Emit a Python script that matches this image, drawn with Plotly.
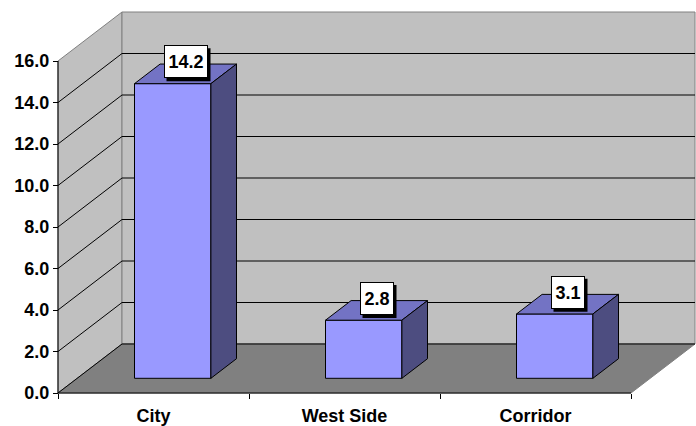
import plotly.graph_objects as go

# Data
categories = ["City", "West Side", "Corridor"]
values = [14.2, 2.8, 3.1]
y_ticks = [0, 2, 4, 6, 8, 10, 12, 14, 16]
y_tick_text = ["0.0", "2.0", "4.0", "6.0", "8.0", "10.0", "12.0", "14.0", "16.0"]

# Layout geometry (pixels)
W, H = 696, 426
PL, PR, PT, PB = 50, 696, 0, 401          # plot area edges
OX, OY = 58, 393                           # pixel of the front origin
PX_X, PX_Y = 191.0, 20.75                  # pixels per category / per unit
DEPTH_X, DEPTH_Y = 64 / PX_X, 49 / PX_Y    # full depth offset in data units
Y_TOP = 16
BAR_HALF = 0.2
BAR_D0, BAR_D1 = 0.3, 0.7
LABEL_LIFT = 12                            # px above top-face centre
SHADOW = 3                                 # px drop shadow offset

x_range = [(PL - OX) / PX_X, (PR - OX) / PX_X]
y_range = [(OY - PB) / PX_Y, (OY - PT) / PX_Y]
n = len(categories)

FONT = dict(family="Liberation Sans, Arial, sans-serif", size=18, color="black")
WALL = "#C0C0C0"
FLOOR = "#808080"
EDGE = "#808080"
FRONT = "#9999FF"
TOP = "#7373C4"
SIDE = "#4D4D80"

fig = go.Figure()


def poly(xs, ys, fill, line_color, width=1):
    fig.add_trace(go.Scatter(
        x=list(xs) + [xs[0]], y=list(ys) + [ys[0]], mode="lines",
        fill="toself", fillcolor=fill,
        line=dict(color=line_color, width=width),
        hoverinfo="skip", showlegend=False))


def line(xs, ys, color, width=1):
    fig.add_trace(go.Scatter(
        x=xs, y=ys, mode="lines", line=dict(color=color, width=width),
        hoverinfo="skip", showlegend=False))


# Walls and floor
poly([0, DEPTH_X, DEPTH_X, 0], [0, DEPTH_Y, Y_TOP + DEPTH_Y, Y_TOP], WALL, EDGE)
poly([DEPTH_X, n + DEPTH_X, n + DEPTH_X, DEPTH_X],
     [DEPTH_Y, DEPTH_Y, Y_TOP + DEPTH_Y, Y_TOP + DEPTH_Y], WALL, EDGE)
poly([0, n, n + DEPTH_X, DEPTH_X], [0, 0, DEPTH_Y, DEPTH_Y], FLOOR, EDGE)

# Gridlines on the side and back walls
for t in y_ticks:
    if t >= Y_TOP:
        continue
    line([0, DEPTH_X, n + DEPTH_X], [t, t + DEPTH_Y, t + DEPTH_Y], "black")

# Front axis lines
line([0, 0], [0, Y_TOP], "black")
line([0, n], [0, 0], "black")

# 3D bars
for i, v in enumerate(values):
    xl = i + 0.5 - BAR_HALF
    xr = i + 0.5 + BAR_HALF
    ax0, ay0 = BAR_D0 * DEPTH_X, BAR_D0 * DEPTH_Y
    ax1, ay1 = BAR_D1 * DEPTH_X, BAR_D1 * DEPTH_Y
    # front
    poly([xl + ax0, xr + ax0, xr + ax0, xl + ax0], [ay0, ay0, v + ay0, v + ay0], FRONT, "black")
    # top
    poly([xl + ax0, xr + ax0, xr + ax1, xl + ax1],
         [v + ay0, v + ay0, v + ay1, v + ay1], TOP, "black")
    # side
    poly([xr + ax0, xr + ax1, xr + ax1, xr + ax0],
         [ay0, ay1, v + ay1, v + ay0], SIDE, "black")

    # value label in a white box with a black drop shadow
    lx = i + 0.5 + 0.5 * DEPTH_X
    ly = v + 0.5 * DEPTH_Y
    txt = f"{v:.1f}"
    box_w = 10 * len(txt) - 2
    box_h = 27
    outer_w, outer_h = box_w + 6, box_h + 6
    fig.add_shape(type="rect", xref="x", yref="y", layer="above",
                  xsizemode="pixel", ysizemode="pixel",
                  xanchor=lx, yanchor=ly,
                  x0=-outer_w / 2 + SHADOW, x1=outer_w / 2 + SHADOW,
                  y0=LABEL_LIFT - outer_h / 2 - SHADOW,
                  y1=LABEL_LIFT + outer_h / 2 - SHADOW,
                  fillcolor="black", line=dict(width=0))
    fig.add_annotation(x=lx, y=ly, xref="x", yref="y", text=f"<b>{txt}</b>",
                       showarrow=False, width=box_w, height=box_h,
                       borderpad=2, borderwidth=1, align="center",
                       xanchor="center", yanchor="middle", yshift=LABEL_LIFT,
                       font=FONT, bgcolor="white", bordercolor="black")

fig.update_layout(
    width=W, height=H,
    margin=dict(l=PL, r=W - PR, t=PT, b=H - PB, pad=0),
    paper_bgcolor="white", plot_bgcolor="white",
    font=FONT,
    showlegend=False,
    xaxis=dict(range=x_range, anchor="free", position=(PB - OY) / (PB - PT),
               tickvals=[i + 0.5 for i in range(n)],
               ticktext=[f"<b>{c}</b>" for c in categories],
               ticks="", ticklabelstandoff=10,
               showgrid=False, zeroline=False, showline=False,
               tickfont=FONT, fixedrange=True),
    xaxis2=dict(range=x_range, overlaying="x", anchor="free",
                position=(PB - OY) / (PB - PT), side="bottom",
                tickvals=list(range(n + 1)), ticks="outside", ticklen=5,
                tickcolor="black", showticklabels=False, showgrid=False,
                zeroline=False, showline=False, fixedrange=True),
    yaxis=dict(range=y_range, anchor="free", position=(OX - PL) / (PR - PL),
               tickvals=y_ticks, ticktext=[f"<b>{t}</b>" for t in y_tick_text],
               ticks="outside", ticklen=5, tickcolor="black",
               showgrid=False, zeroline=False, showline=False,
               tickfont=FONT, fixedrange=True),
)

# An empty trace keeps the secondary tick axis active
fig.add_trace(go.Scatter(x=[], y=[], xaxis="x2", yaxis="y", showlegend=False))

fig.write_html("out.html")
